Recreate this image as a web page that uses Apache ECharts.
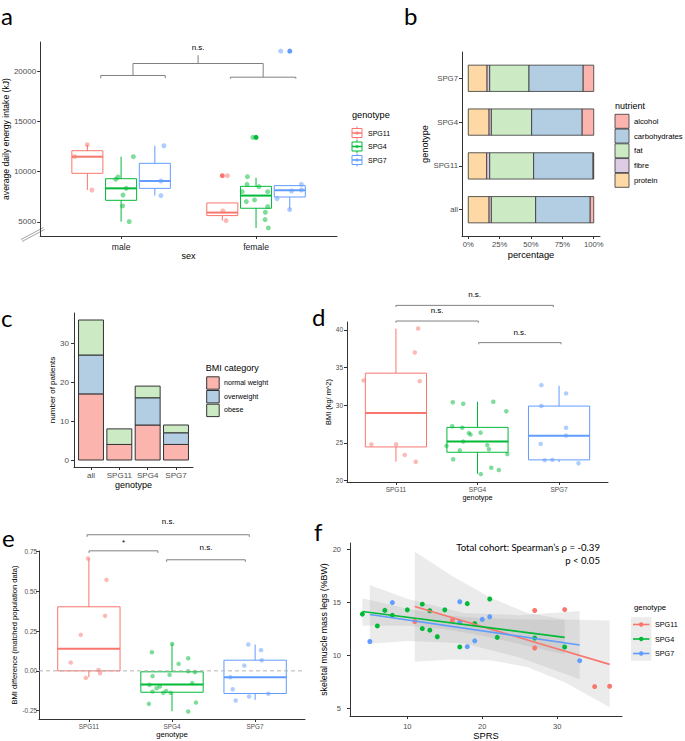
<!DOCTYPE html>
<html>
<head>
<meta charset="utf-8">
<script src="https://cdn.jsdelivr.net/npm/echarts@6/dist/echarts.min.js"></script>
<style>
html,body{margin:0;padding:0;background:#fff}
#chart{width:685px;height:741px}
</style>
</head>
<body>
<div id="chart"></div>
<script>
var genotypes = ['SPG11', 'SPG4', 'SPG7'];
var genoColors = ['#F8766D', '#00BA38', '#619CFF'];

// a - energy intake by sex (x: 1 = male, 2 = female, dodged)
var sexes = ['male', 'female'];
var energyBoxes = [ // [x, low, q1, median, q3, high, genotype]
  [0.75, 8180, 9835, 11490, 12085, 12680, 0],
  [1.00, 5030, 7150, 8340, 9300, 11490, 1],
  [1.25, 7620, 8340, 9070, 10830, 12580, 2],
  [1.75, 5130, 5630, 5930, 6890, 6890, 0],
  [2.00, 4400, 6360, 7620, 8540, 9400, 1],
  [2.25, 6230, 7480, 8150, 8610, 8680, 2]
];
var energySPG11 = [[0.655,11490],[0.749,12680],[0.783,8180],[1.788,9600],[1.754,6090],[1.778,5130]];
var energySPG4 = [[0.96,9240],[0.977,9470],[1.091,11490],[1.038,8340],[1.014,7680],[1.011,6590],[1.06,5030],
  [1.977,13410],[1.936,9500],[1.933,8740],[1.897,8010],[2.021,8510],[2.086,8010],[1.928,7020],[1.989,7190],
  [2.086,6520],[2.069,5960],[2.067,5230],[2.091,4400]];
var energySPG7 = [[1.317,12580],[1.295,9070],[1.295,7620],[2.183,21990],[2.156,7320],[2.263,8080],[2.336,8740],[2.336,8180],[2.249,6230]];
var energyOutliers = [[1.75,9600,0],[2.0,13410,1],[2.25,21990,2]];
var energyTicks = [5000, 10000, 15000, 20000];
var energyBrackets = [ // [x1, x2, y, end1, end2, midTop, label, labelY]
  [0.849, 1.327, 19570, 19300, 19300, 20600, '', 0],
  [1.81, 2.295, 19400, 19240, 19240, 20000, '', 0],
  [1.088, 2.053, 20760, 20600, 20000, 21590, 'n.s.', 22350]
];

// b - nutrient share
var dietGroups = ['all', 'SPG11', 'SPG4', 'SPG7'];
var nutrients = ['protein', 'fibre', 'fat', 'carbohydrates', 'alcohol'];
var nutrientColors = {protein:'#FED9A6', fibre:'#DECBE4', fat:'#CCEBC5', carbohydrates:'#B3CDE3', alcohol:'#FBB4AE'};
var proteinPct = [16.6, 14.7, 16.6, 15.0];
var fibrePct = [1.8, 2.4, 1.8, 2.1];
var fatPct = [35.3, 35.0, 32.1, 31.3];
var carbPct = [43.5, 47.4, 40.3, 43.2];
var alcoholPct = [2.8, 0.5, 9.2, 8.4];
var pctTicks = [0, 25, 50, 75, 100];

// c - BMI category counts
var bmiGroups = ['all', 'SPG11', 'SPG4', 'SPG7'];
var bmiCats = ['normal weight', 'overweight', 'obese'];
var bmiColors = ['#FBB4AE', '#B3CDE3', '#CCEBC5'];
var normalCounts = [17, 4, 9, 4];
var overweightCounts = [10, 0, 7, 3];
var obeseCounts = [9, 4, 3, 2];
var countTicks = [0, 10, 20, 30];

// d - BMI
var bmiBoxes = [
  [1, 22.5, 24.46, 28.96, 34.26, 40.18, 0],
  [2, 20.88, 23.75, 25.17, 27.06, 30.46, 1],
  [3, 22.43, 22.74, 25.96, 29.89, 32.58, 2]
];
var bmiSPG11 = [[1.272,40.2],[1.231,37.0],[0.604,33.3],[1.292,33.2],[0.699,24.8],[1.002,24.8],[1.108,23.4],[1.243,22.5]];
var bmiSPG4 = [[1.697,30.4],[1.825,30.2],[2.194,30.46],[2.353,29.2],[1.69,27.2],[1.813,27.0],[1.894,26.3],[1.915,26.1],
  [2.038,26.36],[1.825,25.17],[1.62,24.6],[2.12,24.7],[2.14,24.15],[1.783,24.0],[2.366,23.5],[1.702,22.83],
  [2.169,21.7],[2.262,21.4],[2.041,20.85]];
var bmiSPG7 = [[2.783,32.67],[3.086,31.57],[2.783,29.9],[3.086,27.0],[3.086,25.96],[2.775,24.86],[2.824,22.7],[2.918,22.74],[3.238,22.3]];
var bmiTicks = [20, 25, 30, 35, 40];
var bmiBrackets = [
  [1.0, 2.93, 43.27, 43.05, 43.05, null, 'n.s.', 44.68],
  [1.0, 2.01, 41.19, 40.97, 40.97, null, 'n.s.', 42.6],
  [2.015, 3.024, 38.32, 38.1, 38.1, null, 'n.s.', 39.7]
];

// e - BMI difference
var diffBoxes = [
  [1, -0.04, 0, 0.138, 0.402, 0.705, 0],
  [2, -0.253, -0.134, -0.086, -0.006, 0.169, 1],
  [3, -0.182, -0.142, -0.04, 0.067, 0.165, 2]
];
var diffSPG11 = [[0.99,0.705],[1.212,0.571],[1.195,0.345],[0.902,0.226],[0.782,0.052],[1.115,0.006],[1.135,-0.015],[0.963,-0.044]];
var diffSPG4 = [[2.002,0.169],[1.758,0.117],[2.195,0.079],[2.079,0.044],[2.195,-0.002],[2.276,-0.008],[1.766,-0.033],
  [1.971,-0.025],[2.243,-0.077],[1.73,-0.088],[1.854,-0.098],[1.814,-0.109],[1.766,-0.13],[1.93,-0.126],
  [1.894,-0.138],[1.983,-0.138],[1.722,-0.207],[2.288,-0.199],[2.195,-0.255]];
var diffSPG7 = [[2.918,0.165],[3.071,0.13],[3.079,0.067],[2.87,0.033],[2.701,-0.04],[2.73,-0.115],[3.159,-0.144],[2.927,-0.161],[2.766,-0.186]];
var diffTicks = [-0.25, 0, 0.25, 0.5, 0.75];
var diffBrackets = [
  [0.978, 2.93, 0.854, 0.841, 0.841, null, 'n.s.', 0.935],
  [1.002, 1.83, 0.753, 0.74, 0.74, null, '*', 0.808],
  [1.935, 2.882, 0.697, 0.684, 0.684, null, 'n.s.', 0.774]
];

// f - SPRS vs muscle mass
var sprsSPG11 = [[11,13.2],[16,13.3],[27,14.24],[31,14.33],[27,10.7],[35,7.05],[37,7.08]];
var sprsSPG4 = [[4,13.9],[6,12.78],[7,14.25],[8,13.78],[10,14.3],[12,14.84],[12,12.53],[13,14.22],[13,12.38],[14,11.76],
  [15,14.3],[17,10.8],[18,14.89],[19,13.0],[21,15.33],[22,11.7],[27,11.63],[31,10.79]];
var sprsSPG7 = [[5,11.31],[8,14.99],[17,15.07],[17,13.15],[18,10.82],[19,11.37],[20,13.4],[21,13.65],[33,9.5]];
var fitSPG11 = [[11,14.61],[37,9.15]];
var fitSPG4 = [[4,14.14],[31,11.7]];
var fitSPG7 = [[5,13.86],[33,10.98]];
var bandSPG11 = [[11,9.4,19.8],[16,9.6,17.5],[21,9.55,15.5],[26,8.9,14.0],[31,7.45,13.4],[37,5.1,13.3]]; // [x, lower, upper]
var bandSPG4 = [[4,12.8,15.4],[10,12.8,14.4],[15,12.5,13.8],[20,11.85,13.5],[25,11.05,13.4],[31,10.1,13.35]];
var bandSPG7 = [[5,11.1,16.65],[10,11.35,15.35],[17.5,11.15,14.0],[25,9.8,13.8],[33,7.75,14.2]];
var sprsTicks = [10, 20, 30];
var muscleTicks = [5, 10, 15, 20];

var FONT = 'Liberation Sans, Arial, sans-serif';
var TICKC = '#4D4D4D';
var AXISC = '#333333';

function plain(v) { return String(v); }
function axis(grid, min, max, ticks, fmt, fs, margin, name, gap, nameFs, labelColor) {
  return {
    type: 'value', gridIndex: grid, min: min, max: max,
    splitLine: {show: false},
    axisLine: {show: true, onZero: false, lineStyle: {color: AXISC, width: 1}},
    axisTick: {show: true, length: 3, customValues: ticks, lineStyle: {color: AXISC, width: 1}},
    axisLabel: {customValues: ticks, formatter: fmt || plain, fontSize: fs, color: labelColor || TICKC, fontFamily: FONT, margin: margin},
    name: name, nameLocation: 'middle', nameGap: gap,
    nameTextStyle: {fontSize: nameFs, color: '#000', fontFamily: FONT}
  };
}
function names(list) { return function (v) { return list[Math.round(v) - 1]; }; }

function boxSeries(ax, data, hw) {
  return {
    type: 'custom', xAxisIndex: ax, yAxisIndex: ax, data: data, silent: true,
    encode: {x: 0, y: [1, 5]},
    renderItem: function (params, api) {
      var x = api.value(0), c = genoColors[api.value(6)];
      var lo = api.coord([x, api.value(1)]), q1 = api.coord([x, api.value(2)]);
      var md = api.coord([x, api.value(3)]), q3 = api.coord([x, api.value(4)]), hi = api.coord([x, api.value(5)]);
      var l = api.coord([x - hw, 0])[0], r = api.coord([x + hw, 0])[0];
      var st = {stroke: c, lineWidth: 1, fill: 'none'};
      return {type: 'group', children: [
        {type: 'line', shape: {x1: lo[0], y1: lo[1], x2: q1[0], y2: q1[1]}, style: st},
        {type: 'line', shape: {x1: q3[0], y1: q3[1], x2: hi[0], y2: hi[1]}, style: st},
        {type: 'rect', shape: {x: l, y: q3[1], width: r - l, height: q1[1] - q3[1]}, style: st},
        {type: 'line', shape: {x1: l, y1: md[1], x2: r, y2: md[1]}, style: {stroke: c, lineWidth: 2}}
      ]};
    }
  };
}

function bracketSeries(ax, list) {
  return {
    type: 'custom', xAxisIndex: ax, yAxisIndex: ax, silent: true, clip: false,
    data: list.map(function (b) { return [b[0], b[2]]; }),
    renderItem: function (params, api) {
      var b = list[params.dataIndex];
      var st = {stroke: '#808080', lineWidth: 1, fill: 'none'};
      var kids = [{type: 'polyline', shape: {points: [api.coord([b[0], b[3]]), api.coord([b[0], b[2]]),
        api.coord([b[1], b[2]]), api.coord([b[1], b[4]])]}, style: st}];
      var xm = (b[0] + b[1]) / 2;
      if (b[5] != null) {
        var m1 = api.coord([xm, b[2]]), m2 = api.coord([xm, b[5]]);
        kids.push({type: 'line', shape: {x1: m1[0], y1: m1[1], x2: m2[0], y2: m2[1]}, style: st});
      }
      if (b[6]) {
        var t = api.coord([xm, b[7]]);
        kids.push({type: 'text', style: {text: b[6], x: t[0], y: t[1], fill: '#000', font: '8px ' + FONT,
          textAlign: 'center', textVerticalAlign: 'middle'}});
      }
      return {type: 'group', children: kids};
    }
  };
}

function pointSeries(ax, data, g, size, op) {
  return {type: 'scatter', xAxisIndex: ax, yAxisIndex: ax, data: data, symbolSize: size, silent: true,
    itemStyle: {color: genoColors[g], opacity: op}};
}

// stacked segments as [start, end, group, colour]
function stackRows(lists, colors) {
  var out = [];
  for (var i = 0; i < lists[0].length; i++) {
    var acc = 0;
    for (var k = 0; k < lists.length; k++) {
      out.push([acc, acc + lists[k][i], i + 1, colors[k]]);
      acc += lists[k][i];
    }
  }
  return out;
}
var nutrientRows = stackRows([proteinPct, fibrePct, fatPct, carbPct, alcoholPct],
  nutrients.map(function (n) { return nutrientColors[n]; }));
var bmiRows = stackRows([normalCounts, overweightCounts, obeseCounts], bmiColors);

function bandSeries(ax, band) {
  return {
    type: 'custom', xAxisIndex: ax, yAxisIndex: ax, silent: true, data: band,
    renderItem: function (params, api) {
      if (params.dataIndex !== 0) return null;
      var pts = [];
      band.forEach(function (d) { pts.push(api.coord([d[0], d[2]])); });
      band.slice().reverse().forEach(function (d) { pts.push(api.coord([d[0], d[1]])); });
      return {type: 'polygon', shape: {points: pts}, style: {fill: 'rgba(153,153,153,0.2)', stroke: 'none'}};
    }
  };
}

function fitSeries(ax, data, g) {
  return {type: 'line', xAxisIndex: ax, yAxisIndex: ax, data: data, symbol: 'none', silent: true,
    lineStyle: {color: genoColors[g], width: 1.6}};
}

var chart = echarts.init(document.getElementById('chart'), null, {renderer: 'svg'});

var grids = [
  {left: 35, top: 42, width: 302, height: 194},
  {left: 462, top: 52, width: 138, height: 184},
  {left: 74, top: 313, width: 119, height: 154},
  {left: 347, top: 322, width: 261, height: 160},
  {left: 39, top: 551, width: 266, height: 168},
  {left: 350, top: 543, width: 272, height: 176}
].map(function (g) { g.containLabel = false; return g; });

var pctFmt = function (v) { return v + '%'; };
var xAxes = [
  axis(0, 0.4, 2.6, [1, 2], names(sexes), 8.6, 6, 'sex', 12, 9, '#222'),
  axis(1, -5, 105, pctTicks, pctFmt, 7.7, 4, 'percentage', 14, 9.3),
  axis(2, 0.4, 4.6, [1, 2, 3, 4], names(bmiGroups), 8, 4, 'genotype', 13, 9),
  axis(3, 0.4, 3.6, [1, 2, 3], names(genotypes), 6.5, 4, 'genotype', 10, 7.3),
  axis(4, 0.4, 3.6, [1, 2, 3], names(genotypes), 6.4, 4, 'genotype', 11, 7.7),
  axis(5, 2.35, 38.65, sprsTicks, null, 7.5, 6, 'SPRS', 13, 9.3)
];
var yAxes = [
  axis(0, 3600, 22900, energyTicks, null, 8, 4, 'average daily energy intake (kJ)', 26, 8.6),
  axis(1, 0.4, 4.6, [1, 2, 3, 4], names(dietGroups), 7.8, 4, 'genotype', 30, 9.2),
  axis(2, -1.8, 37.8, countTicks, null, 8, 5, 'number of patients', 16, 8),
  axis(3, 19.8, 41.06, bmiTicks, null, 6.5, 4, 'BMI (kg/ m^2)', 12, 7.4),
  axis(4, -0.302, 0.752, diffTicks, function (v) { return v.toFixed(2); }, 6.4, 2, 'BMI difference (matched population data)', 19, 7.6),
  axis(5, 4.26, 20.62, muscleTicks, null, 7.5, 9, 'skeletal muscle mass legs (%BW)', 14, 8.8)
];

var series = [];
// a
series.push(boxSeries(0, energyBoxes, 0.115));
series.push(pointSeries(0, energySPG11, 0, 5, 0.5));
series.push(pointSeries(0, energySPG4, 1, 5, 0.5));
series.push(pointSeries(0, energySPG7, 2, 5, 0.5));
energyOutliers.forEach(function (o) { series.push(pointSeries(0, [[o[0], o[1]]], o[2], 5, 1)); });
series.push(bracketSeries(0, energyBrackets));
// b
series.push({
  type: 'custom', xAxisIndex: 1, yAxisIndex: 1, silent: true, data: nutrientRows, encode: {x: [0, 1], y: 2},
  renderItem: function (params, api) {
    var row = nutrientRows[params.dataIndex];
    var p0 = api.coord([row[0], row[2] + 0.3]), p1 = api.coord([row[1], row[2] - 0.3]);
    return {type: 'rect', shape: {x: p0[0], y: p0[1], width: p1[0] - p0[0], height: p1[1] - p0[1]},
      style: {fill: row[3], stroke: '#333', lineWidth: 0.8}};
  }
});
// c
series.push({
  type: 'custom', xAxisIndex: 2, yAxisIndex: 2, silent: true, data: bmiRows, encode: {x: 2, y: [0, 1]},
  renderItem: function (params, api) {
    var row = bmiRows[params.dataIndex];
    var p0 = api.coord([row[2] - 0.44, row[1]]), p1 = api.coord([row[2] + 0.44, row[0]]);
    return {type: 'rect', shape: {x: p0[0], y: p0[1], width: p1[0] - p0[0], height: p1[1] - p0[1]},
      style: {fill: row[3], stroke: '#333', lineWidth: 1}};
  }
});
// d
series.push(boxSeries(3, bmiBoxes, 0.375));
series.push(pointSeries(3, bmiSPG11, 0, 4.5, 0.5));
series.push(pointSeries(3, bmiSPG4, 1, 4.5, 0.5));
series.push(pointSeries(3, bmiSPG7, 2, 4.5, 0.5));
series.push(bracketSeries(3, bmiBrackets));
// e
series.push({type: 'line', xAxisIndex: 4, yAxisIndex: 4, data: [[0.4, 0], [3.6, 0]], symbol: 'none', silent: true,
  lineStyle: {color: '#b3b3b3', width: 1, type: [4, 3]}});
series.push(boxSeries(4, diffBoxes, 0.375));
series.push(pointSeries(4, diffSPG11, 0, 4.5, 0.5));
series.push(pointSeries(4, diffSPG4, 1, 4.5, 0.5));
series.push(pointSeries(4, diffSPG7, 2, 4.5, 0.5));
series.push(bracketSeries(4, diffBrackets));
// f
series.push(pointSeries(5, sprsSPG11, 0, 5, 1));
series.push(pointSeries(5, sprsSPG4, 1, 5, 1));
series.push(pointSeries(5, sprsSPG7, 2, 5, 1));
series.push(bandSeries(5, bandSPG11));
series.push(bandSeries(5, bandSPG4));
series.push(bandSeries(5, bandSPG7));
series.push(fitSeries(5, fitSPG11, 0));
series.push(fitSeries(5, fitSPG4, 1));
series.push(fitSeries(5, fitSPG7, 2));

// legends and labels
function txt(s, x, y, size, color, align, family) {
  return {type: 'text', silent: true, style: {text: s, x: x, y: y, fill: color || '#000',
    font: size + 'px ' + (family || FONT), textAlign: align || 'left', textVerticalAlign: 'middle'}};
}
var graphics = [];
[['a', 1, 15], ['b', 404, 15], ['c', 1, 317], ['d', 312, 316], ['e', 2, 537], ['f', 314, 531]].forEach(function (l) {
  graphics.push(txt(l[0], l[1], l[2], 24, '#000', 'left', 'Lato, sans-serif'));
});
// axis break on panel a
graphics.push({type: 'line', silent: true, shape: {x1: 21, y1: 239.5, x2: 43.5, y2: 227.5}, style: {stroke: '#8c8c8c', lineWidth: 0.8}});
graphics.push({type: 'line', silent: true, shape: {x1: 22, y1: 241.5, x2: 44.5, y2: 229.5}, style: {stroke: '#8c8c8c', lineWidth: 0.8}});
// legend a
graphics.push(txt('genotype', 352, 115, 9.2));
genotypes.forEach(function (g, i) {
  var cy = 133 + i * 13.5, c = genoColors[i];
  graphics.push({type: 'group', silent: true, children: [
    {type: 'line', shape: {x1: 357, y1: cy - 6.5, x2: 357, y2: cy + 6.5}, style: {stroke: c, lineWidth: 1}},
    {type: 'rect', shape: {x: 352, y: cy - 4.5, width: 10, height: 9}, style: {fill: '#fff', stroke: c, lineWidth: 1}},
    {type: 'line', shape: {x1: 352, y1: cy, x2: 362, y2: cy}, style: {stroke: c, lineWidth: 1.5}},
    {type: 'circle', shape: {cx: 357, cy: cy, r: 1.8}, style: {fill: c, opacity: 0.6}}
  ]});
  graphics.push(txt(g, 368, cy, 7));
});
// legend b
graphics.push(txt('nutrient', 615, 106, 9));
['alcohol', 'carbohydrates', 'fat', 'fibre', 'protein'].forEach(function (n, i) {
  var cy = 121.3 + i * 14.75;
  graphics.push({type: 'rect', silent: true, shape: {x: 615, y: cy - 7, width: 14, height: 14},
    style: {fill: nutrientColors[n], stroke: '#333', lineWidth: 0.8}});
  graphics.push(txt(n, 634, cy, 7.7));
});
// legend c
graphics.push(txt('BMI category', 205.7, 368, 9));
bmiCats.forEach(function (n, i) {
  var cy = 383 + i * 13.7;
  graphics.push({type: 'rect', silent: true, shape: {x: 206.7, y: cy - 6.2, width: 12.5, height: 12.4},
    style: {fill: bmiColors[i], stroke: '#333', lineWidth: 1}});
  graphics.push(txt(n, 224, cy, 7.1));
});
// legend f
graphics.push(txt('genotype', 634, 607, 7.8));
genotypes.forEach(function (g, i) {
  var cy = 624.5 + i * 14.5, c = genoColors[i];
  graphics.push({type: 'rect', silent: true, shape: {x: 631, y: cy - 7.25, width: 20.5, height: 14.5}, style: {fill: '#ebebeb'}});
  graphics.push({type: 'line', silent: true, shape: {x1: 633, y1: cy, x2: 649.5, y2: cy}, style: {stroke: c, lineWidth: 1.6}});
  graphics.push({type: 'circle', silent: true, shape: {cx: 641.2, cy: cy, r: 2.2}, style: {fill: c}});
  graphics.push(txt(g, 655, cy, 7.2));
});
// panel f annotation
graphics.push(txt('Total cohort: Spearman\u2019s \u03c1 = -0.39', 600, 547.7, 9.6, '#000', 'right', 'Lato, sans-serif'));
graphics.push(txt('p < 0.05', 600, 560.3, 9.6, '#000', 'right', 'Lato, sans-serif'));

chart.setOption({
  animation: false,
  backgroundColor: '#fff',
  grid: grids,
  xAxis: xAxes,
  yAxis: yAxes,
  series: series,
  graphic: graphics
});
</script>
</body>
</html>
